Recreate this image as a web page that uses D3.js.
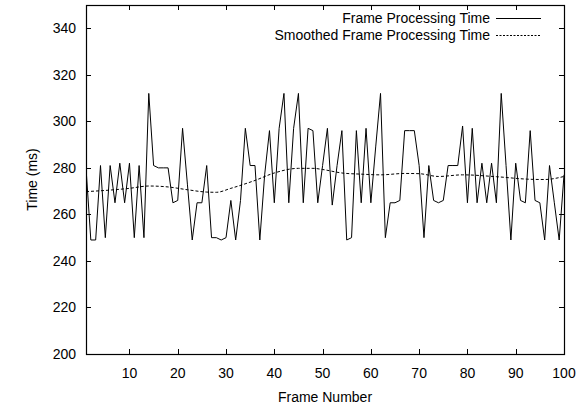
<!DOCTYPE html>
<html>
<head>
<meta charset="utf-8">
<script src="https://cdn.jsdelivr.net/npm/d3@7"></script>
<style>
  body { margin: 0; background: #fff; }
  text { font-family: "Liberation Sans", Arial, Helvetica, sans-serif; fill: #000; }
</style>
</head>
<body>
<svg id="chart" width="579" height="412"></svg>
<script>
// frame processing times (ms), frames 1..100
const frameTimes = [
  280, 249, 249, 281, 250, 281, 265, 282, 265, 282,
  250, 281, 250, 312, 281, 280, 280, 280, 265, 266,
  297, 273, 249, 265, 265, 281, 250, 250, 249, 250,
  266, 249, 266, 297, 281, 281, 249, 277, 296, 265,
  297, 312, 265, 297, 312, 265, 297, 296, 265, 281,
  297, 264, 281, 296, 249, 250, 296, 265, 297, 265,
  289, 312, 250, 265, 265, 266, 296, 296, 296, 281,
  250, 281, 266, 265, 266, 281, 281, 281, 298, 265,
  297, 265, 282, 265, 282, 265, 312, 281, 249, 282,
  266, 265, 296, 266, 265, 249, 281, 265, 249, 277
];

// smoothed curve, read at a few frames
const smoothFrames = [1, 5, 10, 14, 18, 22, 26, 28, 31, 36, 40, 45, 48, 50, 54, 58, 62, 67, 70, 74, 79, 86, 93, 96, 100];
const smoothTimes = [269.8, 270.3, 271.2, 272.2, 271.8, 270.6, 269.6, 269.5, 271.2, 274.6, 277.8, 279.8, 279.8, 279.3, 277.8, 277.3, 277.0, 277.6, 277.5, 276.3, 277.0, 276.2, 275.1, 275.0, 276.3];

const xTicks = [10, 20, 30, 40, 50, 60, 70, 80, 90, 100];
const yTicks = [200, 220, 240, 260, 280, 300, 320, 340];
const legendLabels = ["Frame Processing Time", "Smoothed Frame Processing Time"];

const svg = d3.select("#chart");
const margin = { top: 5, right: 15, bottom: 58, left: 86 };
const width = +svg.attr("width") - margin.left - margin.right;
const height = +svg.attr("height") - margin.top - margin.bottom;
const fontSize = 14;
const tickLen = 5;

const x = d3.scaleLinear().domain([1, 100]).range([0, width]);
const y = d3.scaleLinear().domain([200, 350]).range([height, 0]);

const g = svg.append("g")
    .attr("transform", `translate(${margin.left},${margin.top})`);

// inward ticks, mirrored on top and right
const ticks = g.append("g").attr("stroke", "#000").attr("stroke-width", 1);
xTicks.forEach(t => {
    let px = Math.round(x(t)) + 0.5;
    ticks.append("line").attr("x1", px).attr("x2", px).attr("y1", height).attr("y2", height - tickLen);
    ticks.append("line").attr("x1", px).attr("x2", px).attr("y1", 0).attr("y2", tickLen);
});
yTicks.forEach(t => {
    let py = Math.round(y(t)) + 0.5;
    ticks.append("line").attr("x1", 0).attr("x2", tickLen).attr("y1", py).attr("y2", py);
    ticks.append("line").attr("x1", width).attr("x2", width - tickLen).attr("y1", py).attr("y2", py);
});

g.selectAll("text.xt").data(xTicks).join("text")
    .attr("class", "xt")
    .attr("x", d => x(d))
    .attr("y", height + 24)
    .attr("text-anchor", "middle")
    .attr("font-size", fontSize)
    .text(d => d);

g.selectAll("text.yt").data(yTicks).join("text")
    .attr("class", "yt")
    .attr("x", -10)
    .attr("y", d => y(d) + 5)
    .attr("text-anchor", "end")
    .attr("font-size", fontSize)
    .text(d => d);

// axis titles
svg.append("text")
    .attr("x", margin.left + width / 2)
    .attr("y", 402)
    .attr("text-anchor", "middle")
    .attr("font-size", fontSize)
    .text("Frame Number");

svg.append("text")
    .attr("transform", `translate(37,${margin.top + height / 2}) rotate(-90)`)
    .attr("text-anchor", "middle")
    .attr("font-size", fontSize)
    .text("Time (ms)");

const clip = g.append("clipPath").attr("id", "plotclip")
    .append("rect").attr("width", width).attr("height", height);

const lineGen = d3.line()
    .x((d, i) => x(i + 1))
    .y(d => y(d));

g.append("path")
    .datum(frameTimes)
    .attr("clip-path", "url(#plotclip)")
    .attr("fill", "none")
    .attr("stroke", "#000")
    .attr("stroke-width", 1)
    .attr("d", lineGen);

const smoothGen = d3.line()
    .x((d, i) => x(smoothFrames[i]))
    .y(d => y(d))
    .curve(d3.curveMonotoneX);

g.append("path")
    .datum(smoothTimes)
    .attr("fill", "none")
    .attr("stroke", "#000")
    .attr("stroke-width", 1)
    .attr("stroke-dasharray", "3,2")
    .attr("d", smoothGen);

// legend
const legend = svg.append("g");
legendLabels.forEach((label, i) => {
    let ly = 18 + i * 17;
    legend.append("text")
        .attr("x", 490)
        .attr("y", ly + 5)
        .attr("text-anchor", "end")
        .attr("font-size", fontSize)
        .text(label);
    legend.append("line")
        .attr("x1", 496).attr("x2", 541)
        .attr("y1", ly + 0.5).attr("y2", ly + 0.5)
        .attr("stroke", "#000")
        .attr("stroke-width", 1)
        .attr("stroke-dasharray", i == 1 ? "2,1.5" : null);
});

// frame
g.append("rect")
    .attr("x", 0.5).attr("y", 0.5)
    .attr("width", width).attr("height", height)
    .attr("fill", "none")
    .attr("stroke", "#000")
    .attr("stroke-width", 1.2);
</script>
</body>
</html>
